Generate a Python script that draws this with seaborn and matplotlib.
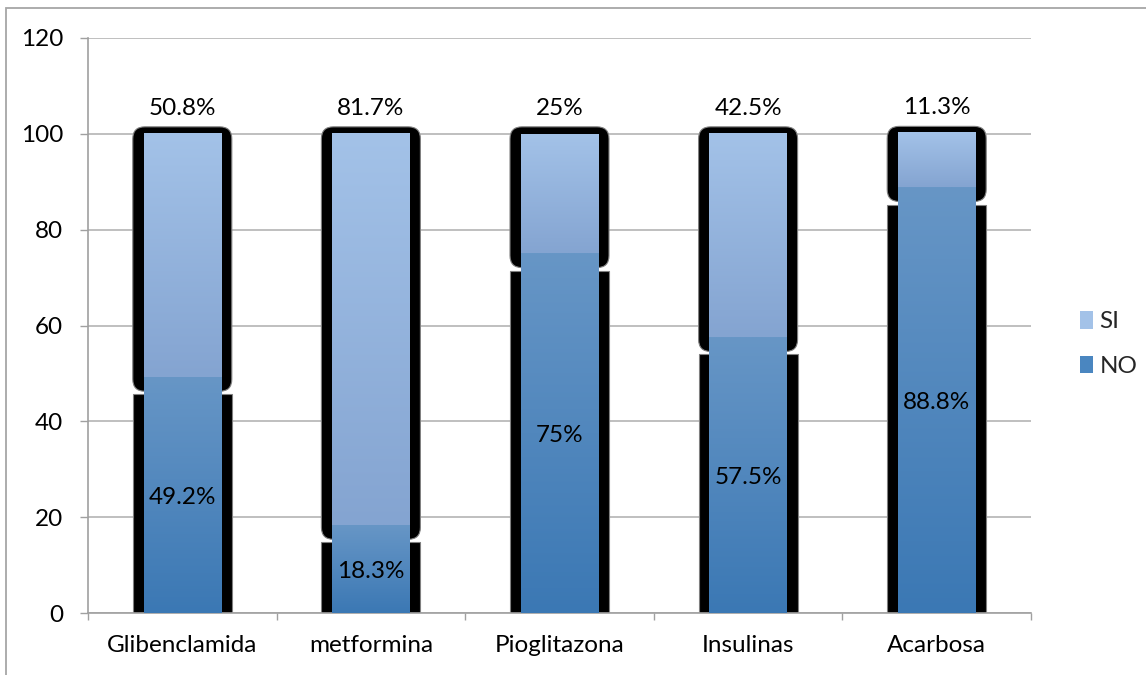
import numpy as np
import pandas as pd
import matplotlib
matplotlib.use("Agg")
import matplotlib.pyplot as plt
import seaborn as sns
from matplotlib.patches import Rectangle, FancyBboxPatch, Patch
from matplotlib.transforms import IdentityTransform
from matplotlib.colors import LinearSegmentedColormap

categories = ["Glibenclamida", "metformina", "Pioglitazona", "Insulinas", "Acarbosa"]
no_values = [49.2, 18.3, 75, 57.5, 88.8]
si_values = [50.8, 81.7, 25, 42.5, 11.3]
no_labels = ["49.2%", "18.3%", "75%", "57.5%", "88.8%"]
si_labels = ["50.8%", "81.7%", "25%", "42.5%", "11.3%"]
y_ticks = [0, 20, 40, 60, 80, 100, 120]

SI_TOP, SI_BOTTOM = "#A3C2E8", "#84A4D1"
NO_TOP, NO_BOTTOM = "#6796C6", "#3B78B4"
GRID = "#B4B4B4"
FS = 17.5

sns.set_theme(style="white")
plt.rcParams["font.family"] = ["Lato", "DejaVu Sans"]

W, H = 1146, 675
fig = plt.figure(figsize=(W / 100, H / 100), dpi=100)
ax = fig.add_axes([88 / W, 1 - 613 / H, (1031 - 88) / W, (613 - 38) / H])

df = pd.DataFrame({"medicamento": categories, "NO": no_values, "SI": si_values})
df["total"] = df["NO"] + df["SI"]

# stacked bars: full height in the SI colour, NO part drawn over it
sns.barplot(data=df, x="medicamento", y="total", color=SI_TOP, saturation=1,
            width=0.41, errorbar=None, linewidth=0, zorder=3, ax=ax)
sns.barplot(data=df, x="medicamento", y="NO", color=NO_TOP, saturation=1,
            width=0.41, errorbar=None, linewidth=0, zorder=3, ax=ax)

ax.set_xlim(-0.5, len(categories) - 0.5)
ax.set_ylim(0, 120)
ax.set_yticks(y_ticks)
ax.set_xlabel("")
ax.set_ylabel("")

total_bars = ax.patches[:len(categories)]
grad = np.linspace(0, 1, 256).reshape(-1, 1)
si_cmap = LinearSegmentedColormap.from_list("si", [SI_BOTTOM, SI_TOP])
no_cmap = LinearSegmentedColormap.from_list("no", [NO_BOTTOM, NO_TOP])

to_px = ax.transData
for bar, n, t in zip(total_bars, no_values, df["total"]):
    x0, w = bar.get_x(), bar.get_width()
    # vertical gradients over each segment
    ax.imshow(grad, cmap=si_cmap, extent=[x0, x0 + w, n, t], origin="lower",
              aspect="auto", interpolation="bilinear", zorder=3.5)
    ax.imshow(grad, cmap=no_cmap, extent=[x0, x0 + w, 0, n], origin="lower",
              aspect="auto", interpolation="bilinear", zorder=3.5)

    # heavy black frames behind each segment (pixel offsets)
    cx = x0 + w / 2
    px_c, px_top = to_px.transform((cx, t))
    _, px_n = to_px.transform((cx, n))
    _, px_0 = to_px.transform((cx, 0))
    half = 49.5
    si_frame = FancyBboxPatch((px_c - half, px_n - 14), 2 * half, (px_top + 7) - (px_n - 14),
                              boxstyle="round,pad=0,rounding_size=12",
                              transform=IdentityTransform(), facecolor="black",
                              edgecolor="#808080", linewidth=0.8, zorder=2)
    no_frame = Rectangle((px_c - half, px_0), 2 * half, (px_n - 17) - px_0,
                         transform=IdentityTransform(), facecolor="black",
                         edgecolor="#808080", linewidth=0.8, zorder=2)
    ax.add_artist(si_frame)
    ax.add_artist(no_frame)

ax.set_xlim(-0.5, len(categories) - 0.5)
ax.set_ylim(0, 120)

# value labels
for i, (n, t) in enumerate(zip(no_values, df["total"])):
    ax.annotate(si_labels[i], (i, t), xytext=(0, 18.5), textcoords="offset points",
                ha="center", va="center", fontsize=FS, color="black", zorder=5)
    ax.annotate(no_labels[i], (i, n / 2), xytext=(0, -1.5), textcoords="offset points",
                ha="center", va="center", fontsize=FS, color="black", zorder=5)

# axes styling
ax.yaxis.grid(True, color=GRID, linewidth=1.2)
ax.xaxis.grid(False)
ax.set_axisbelow(True)
for side in ("top", "right"):
    ax.spines[side].set_visible(False)
for side in ("left", "bottom"):
    ax.spines[side].set_color("#A0A0A0")
    ax.spines[side].set_linewidth(1.2)

ax.tick_params(axis="y", which="major", left=True, length=6, width=1, color="#A0A0A0",
               direction="out", pad=12, labelsize=FS, labelcolor="black")
ax.tick_params(axis="x", which="major", bottom=True, length=0, pad=16,
               labelsize=FS, labelcolor="black")
ax.set_xticks(np.arange(-0.5, len(categories), 1.0), minor=True)
ax.tick_params(axis="x", which="minor", bottom=True, length=5, width=1,
               color="#A0A0A0", direction="out")

# legend
handles = [Patch(facecolor="#A3C2E8", edgecolor="none"),
           Patch(facecolor="#4A86C0", edgecolor="none")]
fig.legend(handles, ["SI", "NO"], loc="center left",
           bbox_to_anchor=(1080 / W, 1 - 344 / H), frameon=False, fontsize=FS,
           handlelength=0.55, handleheight=0.75, handletextpad=0.25,
           labelspacing=0.95, borderpad=0, borderaxespad=0)

# chart-area border
fig.add_artist(Rectangle((6 / W, -0.05), 1.2, 1 - 8 / H + 0.05,
                         transform=fig.transFigure, fill=False,
                         edgecolor="#A6A6A6", linewidth=1.3))

fig.savefig("out.png", dpi=100)
